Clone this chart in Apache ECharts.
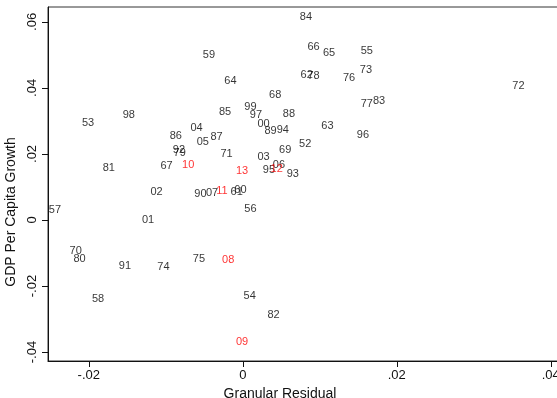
<!DOCTYPE html>
<html>
<head>
<meta charset="utf-8">
<script src="https://cdn.jsdelivr.net/npm/echarts@6/dist/echarts.min.js"></script>
<style>
  html, body { margin: 0; padding: 0; background: #fff; }
  #chart { width: 557px; height: 398px; }
</style>
</head>
<body>
<div id="chart"></div>
<script>
// years shown as marker labels
var years = ['84', '66', '65', '55', '59', '73', '62', '78', '76', '72',
             '64', '68', '77', '83', '98', '53', '85', '99', '97', '88',
             '00', '89', '94', '63', '96', '04', '86', '87', '05', '52',
             '92', '79', '71', '03', '69', '81', '67', '10', '13', '06',
             '95', '12', '93', '02', '90', '07', '11', '60', '61', '56',
             '57', '01', '70', '80', '91', '74', '75', '08', '54', '58',
             '82', '09'];
// granular residual (x)
var resid = [0.0082, 0.0092, 0.0112, 0.0161, -0.0044, 0.0160, 0.0083, 0.0092, 0.0138, 0.0358,
             -0.0016, 0.0042, 0.0161, 0.0177, -0.0148, -0.0201, -0.0023, 0.0010, 0.0017, 0.0060,
             0.0027, 0.0036, 0.0052, 0.0110, 0.0156, -0.0060, -0.0087, -0.0034, -0.0052, 0.0081,
             -0.0083, -0.0082, -0.0021, 0.0027, 0.0055, -0.0174, -0.0099, -0.0071, -0.0001, 0.0047,
             0.0034, 0.0044, 0.0065, -0.0112, -0.0055, -0.0040, -0.0027, -0.0003, -0.0008, 0.0010,
             -0.0244, -0.0123, -0.0217, -0.0212, -0.0153, -0.0103, -0.0057, -0.0019, 0.0009, -0.0188,
             0.0040, -0.0001];
// GDP per capita growth (y)
var growth = [0.0615, 0.0524, 0.0506, 0.0512, 0.0500, 0.0455, 0.0439, 0.0436, 0.0430, 0.0406,
              0.0421, 0.0379, 0.0352, 0.0361, 0.0318, 0.0294, 0.0327, 0.0342, 0.0318, 0.0321,
              0.0291, 0.0270, 0.0273, 0.0285, 0.0258, 0.0279, 0.0255, 0.0252, 0.0236, 0.0230,
              0.0212, 0.0203, 0.0200, 0.0191, 0.0212, 0.0158, 0.0164, 0.0167, 0.0148, 0.0167,
              0.0152, 0.0155, 0.0139, 0.0085, 0.0079, 0.0082, 0.0088, 0.0091, 0.0085, 0.0033,
              0.0030, 0.0000, -0.0094, -0.0118, -0.0139, -0.0142, -0.0118, -0.0121, -0.0230, -0.0239,
              -0.0288, -0.0370];
var redYears = ['08', '09', '10', '11', '12', '13'];
var xTicks = [-0.02, 0, 0.02, 0.04];
var yTicks = [-0.04, -0.02, 0, 0.02, 0.04, 0.06];

function fmt(v) {
    if (Math.abs(v) < 1e-9) return '0';
    var s = Math.abs(v).toFixed(2).replace(/^0/, '');
    return (v < 0 ? '-' : '') + s;
}

var points = years.map(function (y, i) {
    var red = redYears.indexOf(y) >= 0;
    return {
        name: y,
        value: [resid[i], growth[i]],
        label: { color: red ? '#ff0000' : '#000000' }
    };
});

var myChart = echarts.init(document.getElementById('chart'));

var option = {
    animation: false,
    textStyle: { fontFamily: 'Liberation Sans, Arial, sans-serif' },
    grid: {
        left: 48, top: 7, width: 512, height: 354,
        outerBoundsMode: 'none',
        containLabel: false,
        show: true, borderColor: '#333', borderWidth: 1
    },
    xAxis: {
        type: 'value',
        min: -0.0253, max: 0.0412,
        name: 'Granular Residual',
        nameLocation: 'middle',
        nameGap: 23,
        nameTextStyle: { fontSize: 14, color: '#111', padding: [0, 48, 0, 0] },
        splitLine: { show: false },
        axisLine: { onZero: false, lineStyle: { color: '#111' } },
        axisTick: { length: 6, lineStyle: { color: '#111' }, customValues: xTicks },
        axisLabel: { fontSize: 13, color: '#111', margin: 8, formatter: fmt, customValues: xTicks }
    },
    yAxis: {
        type: 'value',
        min: -0.0427, max: 0.0645,
        name: 'GDP Per Capita Growth',
        nameLocation: 'middle',
        nameGap: 27,
        nameTextStyle: { fontSize: 14, color: '#111', padding: [0, 56, 0, 0] },
        splitLine: { show: false },
        axisLine: { onZero: false, lineStyle: { color: '#111' } },
        axisTick: { length: 6, lineStyle: { color: '#111' }, customValues: yTicks },
        axisLabel: { fontSize: 13, color: '#111', margin: 9, rotate: 90, formatter: fmt, customValues: yTicks }
    },
    series: [{
        type: 'scatter',
        symbolSize: 1,
        itemStyle: { color: 'rgba(0,0,0,0)' },
        label: {
            show: true,
            position: 'inside',
            fontSize: 11,
            textBorderWidth: 0,
            formatter: '{b}'
        },
        emphasis: { disabled: true },
        data: points
    }]
};

myChart.setOption(option);
</script>
</body>
</html>
